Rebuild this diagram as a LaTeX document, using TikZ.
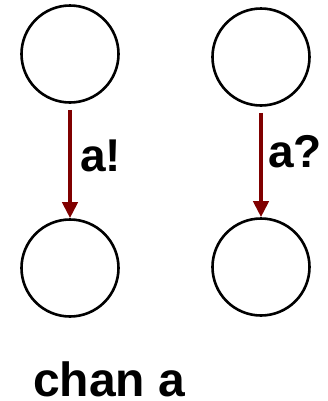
\documentclass[tikz,border=0pt]{standalone}
\usepackage{fontspec}
\setmainfont{Liberation Sans}
\usetikzlibrary{arrows.meta}
\definecolor{arrred}{HTML}{800000}
\tikzset{
  state/.style={circle, draw=black, line width=2.6bp, minimum size=97bp, inner sep=0pt},
  trans/.style={draw=arrred, line width=4bp, shorten <=6bp, -{Triangle[length=16bp,width=15bp]}},
  lbl/.style={anchor=base west, inner sep=0pt, font=\fontsize{46bp}{50bp}\selectfont\bfseries},
  title/.style={anchor=base west, inner sep=0pt, font=\fontsize{48bp}{54bp}\selectfont\bfseries}
}
\begin{document}
\begin{tikzpicture}[x=1bp,y=-1bp]
\useasboundingbox (0,0) rectangle (328,401);
\node[state] (tl) at (70,54) {};
\node[state] (tr) at (261,57) {};
\node[state] (bl) at (70,268) {};
\node[state] (br) at (261,267) {};
\draw[trans] (tl.south) -- (bl.north);
\draw[trans] (tr.south) -- (br.north);
\node[lbl] (l1) at (80,171) {a!};
\node[lbl] (l2) at (268,167) {a?};
\node[title] (t) at (33,396) {chan a};
\end{tikzpicture}
\end{document}
